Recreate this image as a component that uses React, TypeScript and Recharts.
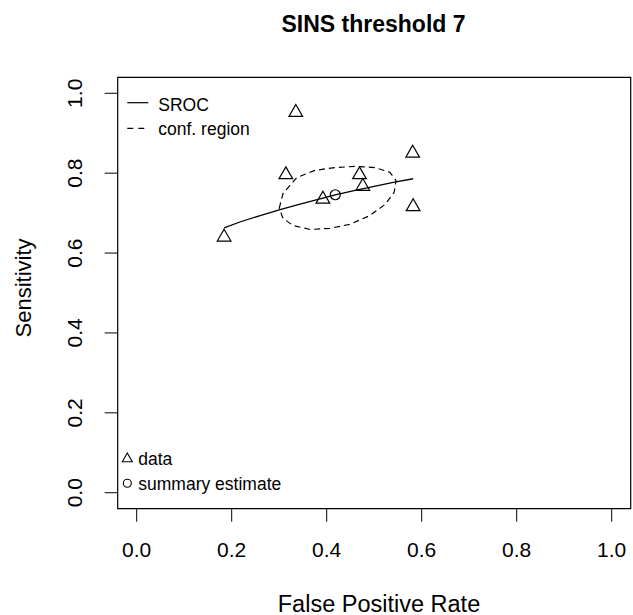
import React from "react";
import { ScatterChart, Scatter, XAxis, YAxis, ReferenceArea } from "recharts";

const FONT = "'Liberation Sans', Arial, Helvetica, sans-serif";

// tick positions on both axes
const axisTicks = [0, 0.2, 0.4, 0.6, 0.8, 1.0];

// study points (triangles)
const studyFpr = [0.335, 0.581, 0.314, 0.469, 0.476, 0.392, 0.582, 0.184];
const studySens = [0.952, 0.85, 0.796, 0.796, 0.767, 0.735, 0.716, 0.64];

// summary estimate (circle)
const summaryFpr = [0.418];
const summarySens = [0.746];

// SROC curve
const srocFpr = [0.184, 0.22, 0.26, 0.3, 0.34, 0.38, 0.42, 0.46, 0.5, 0.54, 0.582];
const srocSens = [0.663, 0.679, 0.694, 0.708, 0.721, 0.734, 0.746, 0.757, 0.767, 0.777, 0.786];

// confidence region outline (closed)
const regionFpr = [
  0.3, 0.308, 0.337, 0.375, 0.417, 0.46, 0.502, 0.533, 0.546, 0.542, 0.523,
  0.491, 0.449, 0.407, 0.365, 0.329, 0.308, 0.3,
];
const regionSens = [
  0.712, 0.749, 0.789, 0.807, 0.814, 0.817, 0.814, 0.802, 0.782, 0.752, 0.722,
  0.694, 0.672, 0.662, 0.659, 0.669, 0.687, 0.712,
];

const zip = (xs: number[], ys: number[]) => xs.map((x, i) => ({ x, y: ys[i] }));

const studies = zip(studyFpr, studySens);
const summary = zip(summaryFpr, summarySens);
const sroc = zip(srocFpr, srocSens);
const region = zip(regionFpr, regionSens);

const Triangle = (props: any) => {
  const { cx, cy } = props;
  const r = 7.9;
  const h = r * 0.866;
  return (
    <polygon
      points={`${cx},${cy - r} ${cx + h},${cy + r / 2} ${cx - h},${cy + r / 2}`}
      fill="none"
      stroke="#000"
      strokeWidth={1.2}
    />
  );
};

const Ring = (props: any) => (
  <circle cx={props.cx} cy={props.cy} r={5} fill="none" stroke="#000" strokeWidth={1.2} />
);

const NoDot = () => <g />;

const XTick = (p: any) => (
  <text x={p.x} y={p.y + 15} textAnchor="middle" fontSize={21} fontFamily={FONT} fill="#000">
    {Number(p.payload.value).toFixed(1)}
  </text>
);

const YTick = (p: any) => (
  <text
    x={p.x}
    y={p.y}
    transform={`rotate(-90, ${p.x}, ${p.y})`}
    textAnchor="middle"
    fontSize={21}
    fontFamily={FONT}
    fill="#000"
  >
    {Number(p.payload.value).toFixed(1)}
  </text>
);

export default function App() {
  return (
    <div style={{ position: "absolute", left: 0, top: 0, width: 633, height: 615, background: "#fff" }}>
      <ScatterChart
        width={633}
        height={615}
        margin={{ top: 77.3, right: 2.3, bottom: 105.3, left: 116.7 }}
      >
        <XAxis
          type="number"
          dataKey="x"
          domain={[-0.04, 1.04]}
          ticks={axisTicks}
          interval={0}
          allowDataOverflow
          height={1}
          axisLine={false}
          tickLine={{ stroke: "#000", strokeWidth: 1 }}
          tickSize={13}
          tickMargin={20}
          tick={XTick}
        />
        <YAxis
          type="number"
          dataKey="y"
          domain={[-0.04, 1.04]}
          ticks={axisTicks}
          interval={0}
          allowDataOverflow
          width={1}
          axisLine={false}
          tickLine={{ stroke: "#000", strokeWidth: 1 }}
          tickSize={13}
          tickMargin={22.7}
          tick={YTick}
        />
        <ReferenceArea
          x1={-0.04}
          x2={1.04}
          y1={-0.04}
          y2={1.04}
          fill="none"
          fillOpacity={0}
          stroke="#000"
          strokeWidth={1.2}
          ifOverflow="visible"
        />
        <Scatter
          data={sroc}
          line={{ stroke: "#000", strokeWidth: 1.3 }}
          lineType="joint"
          shape={NoDot}
          isAnimationActive={false}
        />
        <Scatter
          data={region}
          line={{ stroke: "#000", strokeWidth: 1.2, strokeDasharray: "6 4" }}
          lineType="joint"
          shape={NoDot}
          isAnimationActive={false}
        />
        <Scatter data={studies} shape={Triangle} isAnimationActive={false} />
        <Scatter data={summary} shape={Ring} isAnimationActive={false} />
      </ScatterChart>
      <svg
        width={633}
        height={615}
        style={{ position: "absolute", left: 0, top: 0, pointerEvents: "none" }}
        fontFamily={FONT}
      >
        <text x={373.5} y={31.5} textAnchor="middle" fontSize={23} fontWeight="bold" fill="#000">
          SINS threshold 7
        </text>
        <text x={379} y={611.5} textAnchor="middle" fontSize={23.5} fill="#000">
          False Positive Rate
        </text>
        <text
          x={31}
          y={288}
          transform="rotate(-90, 31, 288)"
          textAnchor="middle"
          fontSize={22}
          fill="#000"
        >
          Sensitivity
        </text>

        {/* top-left legend */}
        <line x1={127.3} x2={148.3} y1={102.7} y2={102.7} stroke="#000" strokeWidth={1.2} />
        <text x={158.3} y={110.5} fontSize={17.5} fill="#000">SROC</text>
        <line
          x1={127.3}
          x2={148.3}
          y1={128.3}
          y2={128.3}
          stroke="#000"
          strokeWidth={1.2}
          strokeDasharray="6 5"
        />
        <text x={158.3} y={135} fontSize={17.5} fill="#000">conf. region</text>

        {/* bottom-left legend */}
        <polygon
          points="127.3,453 132.3,461.7 122.3,461.7"
          fill="none"
          stroke="#000"
          strokeWidth={1.1}
        />
        <text x={138.3} y={465} fontSize={17.5} fill="#000">data</text>
        <circle cx={127.3} cy={483.3} r={4} fill="none" stroke="#000" strokeWidth={1.1} />
        <text x={138.3} y={490} fontSize={17.5} fill="#000">summary estimate</text>
      </svg>
    </div>
  );
}
